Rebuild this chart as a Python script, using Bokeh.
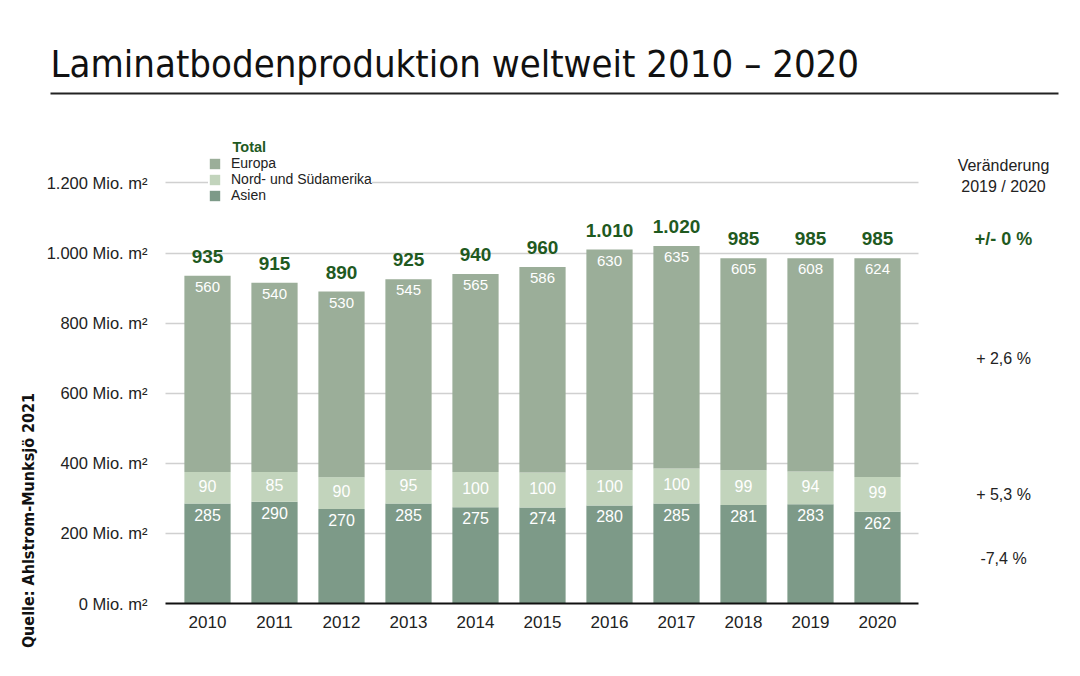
import math
from bokeh.plotting import figure
from bokeh.models import (Range1d, Label, Legend, LegendItem, ColumnDataSource,
                          FixedTicker, LinearAxis, Grid)
from bokeh.embed import file_html
from bokeh.resources import INLINE
from bokeh.core.properties import value

# ---------------- data ----------------
years = [2010, 2011, 2012, 2013, 2014, 2015, 2016, 2017, 2018, 2019, 2020]
asien = [285, 290, 270, 285, 275, 274, 280, 285, 281, 283, 262]
amerika = [90, 85, 90, 95, 100, 100, 100, 100, 99, 94, 99]
europa = [560, 540, 530, 545, 565, 586, 630, 635, 605, 608, 624]
y_ticks = [0, 200, 400, 600, 800, 1000, 1200]
y_tick_labels = ["0 Mio. m²", "200 Mio. m²", "400 Mio. m²", "600 Mio. m²",
                 "800 Mio. m²", "1.000 Mio. m²", "1.200 Mio. m²"]
series_names = ["Europa", "Nord- und Südamerika", "Asien"]
change_header = ["Veränderung", "2019 / 2020"]
change_total = "+/- 0 %"
change_europa = "+ 2,6 %"
change_amerika = "+ 5,3 %"
change_asien = "-7,4 %"
title_text = "Laminatbodenproduktion weltweit 2010 – 2020"
source_text = "Quelle: Ahlstrom-Munksjö 2021"

# ---------------- styles ----------------
C_ASIEN = "#7d9a88"
C_AMER = "#c2d4bc"
C_EUR = "#9bae99"
C_GREEN = "#1f5a1f"
TXT = "#222222"
FONT = "Liberation Sans"
COND = "DejaVu Sans Condensed"

totals = [a + b + c for a, b, c in zip(asien, amerika, europa)]
total_labels = [f"{t:,}".replace(",", ".") for t in totals]
amer_mid = [a + b / 2 for a, b in zip(asien, amerika)]

src = ColumnDataSource(dict(
    year=years, asien=asien, amerika=amerika, europa=europa,
    total=totals, total_lbl=total_labels, amer_mid=amer_mid,
    asien_lbl=[str(v) for v in asien], amer_lbl=[str(v) for v in amerika],
    eur_lbl=[str(v) for v in europa],
))

# ---------------- geometry ----------------
W, H = 1080, 676
FL, FR, FB = 165, 918, 603          # plot-area edges in page pixels
PXX = 67.0                          # pixels per year
PXY = 478 / 1364                    # pixels per Mio. m²
X0 = years[0] - 42 / PXX            # data x at plot-area left
X1 = X0 + (FR - FL) / PXX           # data x at plot-area right


def xv(px):
    return X0 + (px - FL) / PXX


def yv(py):
    return (FB - py) / PXY


p = figure(width=W, height=H, x_range=Range1d(xv(0), xv(W)), y_range=Range1d(yv(H), yv(0)),
           output_backend="svg", toolbar_location=None, min_border=0,
           x_axis_location=None, y_axis_location=None)
p.outline_line_color = None
p.background_fill_color = "white"
# drop default grids
p.center = [r for r in p.center if not isinstance(r, Grid)]

# grid (limited to the plot area)
grid = Grid(dimension=1, ticker=FixedTicker(ticks=y_ticks[1:]),
            grid_line_color="#d0d0d0", grid_line_width=1.5)
if "cross_bounds" in Grid.properties():
    grid.cross_bounds = (X0, X1)
    p.add_layout(grid)
else:
    p.segment(x0=[X0] * (len(y_ticks) - 1), x1=[X1] * (len(y_ticks) - 1),
              y0=y_ticks[1:], y1=y_ticks[1:], line_color="#d0d0d0", line_width=1.5,
              level="underlay")

# axes
yaxis = LinearAxis(ticker=FixedTicker(ticks=y_ticks), fixed_location=X0,
                   major_label_overrides={t: l for t, l in zip(y_ticks, y_tick_labels)},
                   axis_line_color=None, major_tick_line_color=None, minor_tick_line_color=None,
                   major_label_standoff=12, major_label_text_font=FONT,
                   major_label_text_font_size="16.5px", major_label_text_color=TXT)
p.add_layout(yaxis, "left")
xaxis = LinearAxis(ticker=FixedTicker(ticks=years), fixed_location=0, bounds=(X0, X1),
                   major_label_overrides={y: str(y) for y in years},
                   axis_line_color="#111111", axis_line_width=2,
                   major_tick_line_color=None, minor_tick_line_color=None,
                   major_label_standoff=6, major_label_text_font=FONT,
                   major_label_text_font_size="17px", major_label_text_color=TXT)
p.add_layout(xaxis, "below")

# bars
rs = p.vbar_stack(["asien", "amerika", "europa"], x="year", width=0.69,
                  color=[C_ASIEN, C_AMER, C_EUR], line_color=None, source=src)

# segment labels
p.text(x="year", y="total", text="eur_lbl", source=src, text_align="center",
       text_baseline="top", y_offset=6, text_color="white",
       text_font=value(FONT), text_font_size="15px")
p.text(x="year", y="amer_mid", text="amer_lbl", source=src, text_align="center",
       text_baseline="middle", y_offset=-2, text_color="white",
       text_font=value(FONT), text_font_size="16px")
p.text(x="year", y="asien", text="asien_lbl", source=src, text_align="center",
       text_baseline="top", y_offset=5, text_color="white",
       text_font=value(FONT), text_font_size="16px")
p.text(x="year", y="total", text="total_lbl", source=src, text_align="center",
       text_baseline="bottom", y_offset=-13, text_color=C_GREEN,
       text_font=value(FONT), text_font_size="19px", text_font_style="bold")

# legend
legend = Legend(items=[LegendItem(label=series_names[0], renderers=[rs[2]]),
                       LegendItem(label=series_names[1], renderers=[rs[1]]),
                       LegendItem(label=series_names[2], renderers=[rs[0]])],
                location=(FL + 43, 400 + (H - FB)), orientation="vertical",
                glyph_width=13, glyph_height=13, label_height=14, spacing=0,
                padding=15, margin=0, label_standoff=10,
                label_text_font=FONT, label_text_font_size="14px", label_text_color=TXT,
                border_line_color=None, background_fill_color="white", background_fill_alpha=1)
p.add_layout(legend)

p.add_layout(Label(x=xv(232), y=yv(146), text="Total", text_font=FONT, text_font_size="14.5px",
                   text_font_style="bold", text_color=C_GREEN, text_baseline="middle"))

# title and rule
p.add_layout(Label(x=xv(50), y=yv(63), text=title_text, text_font=COND, text_font_size="38px",
                   text_color="#111111", text_baseline="middle", text_align="left"))
p.segment(x0=[xv(50)], y0=[yv(93)], x1=[xv(1058)], y1=[yv(93)],
          line_color="#222222", line_width=2)

# change column on the right
xr = xv(1003)
p.add_layout(Label(x=xr, y=yv(165), text=change_header[0], text_font=FONT, text_font_size="16px",
                   text_color=TXT, text_align="center", text_baseline="middle"))
p.add_layout(Label(x=xr, y=yv(186), text=change_header[1], text_font=FONT, text_font_size="16px",
                   text_color=TXT, text_align="center", text_baseline="middle"))
p.add_layout(Label(x=xr, y=yv(238), text=change_total, text_font=FONT, text_font_size="18px",
                   text_font_style="bold", text_color=C_GREEN, text_align="center",
                   text_baseline="middle"))
for txt, py in [(change_europa, 358), (change_amerika, 494), (change_asien, 558)]:
    p.add_layout(Label(x=xr, y=yv(py), text=txt, text_font=FONT, text_font_size="16px",
                       text_color=TXT, text_align="center", text_baseline="middle"))

# vertical source
p.add_layout(Label(x=xv(28), y=yv(520), text=source_text, angle=math.pi / 2,
                   text_font=COND, text_font_size="16px", text_font_style="bold",
                   text_color="#111111", text_align="center", text_baseline="middle"))

open("out.html", "w").write(file_html(p, INLINE))
